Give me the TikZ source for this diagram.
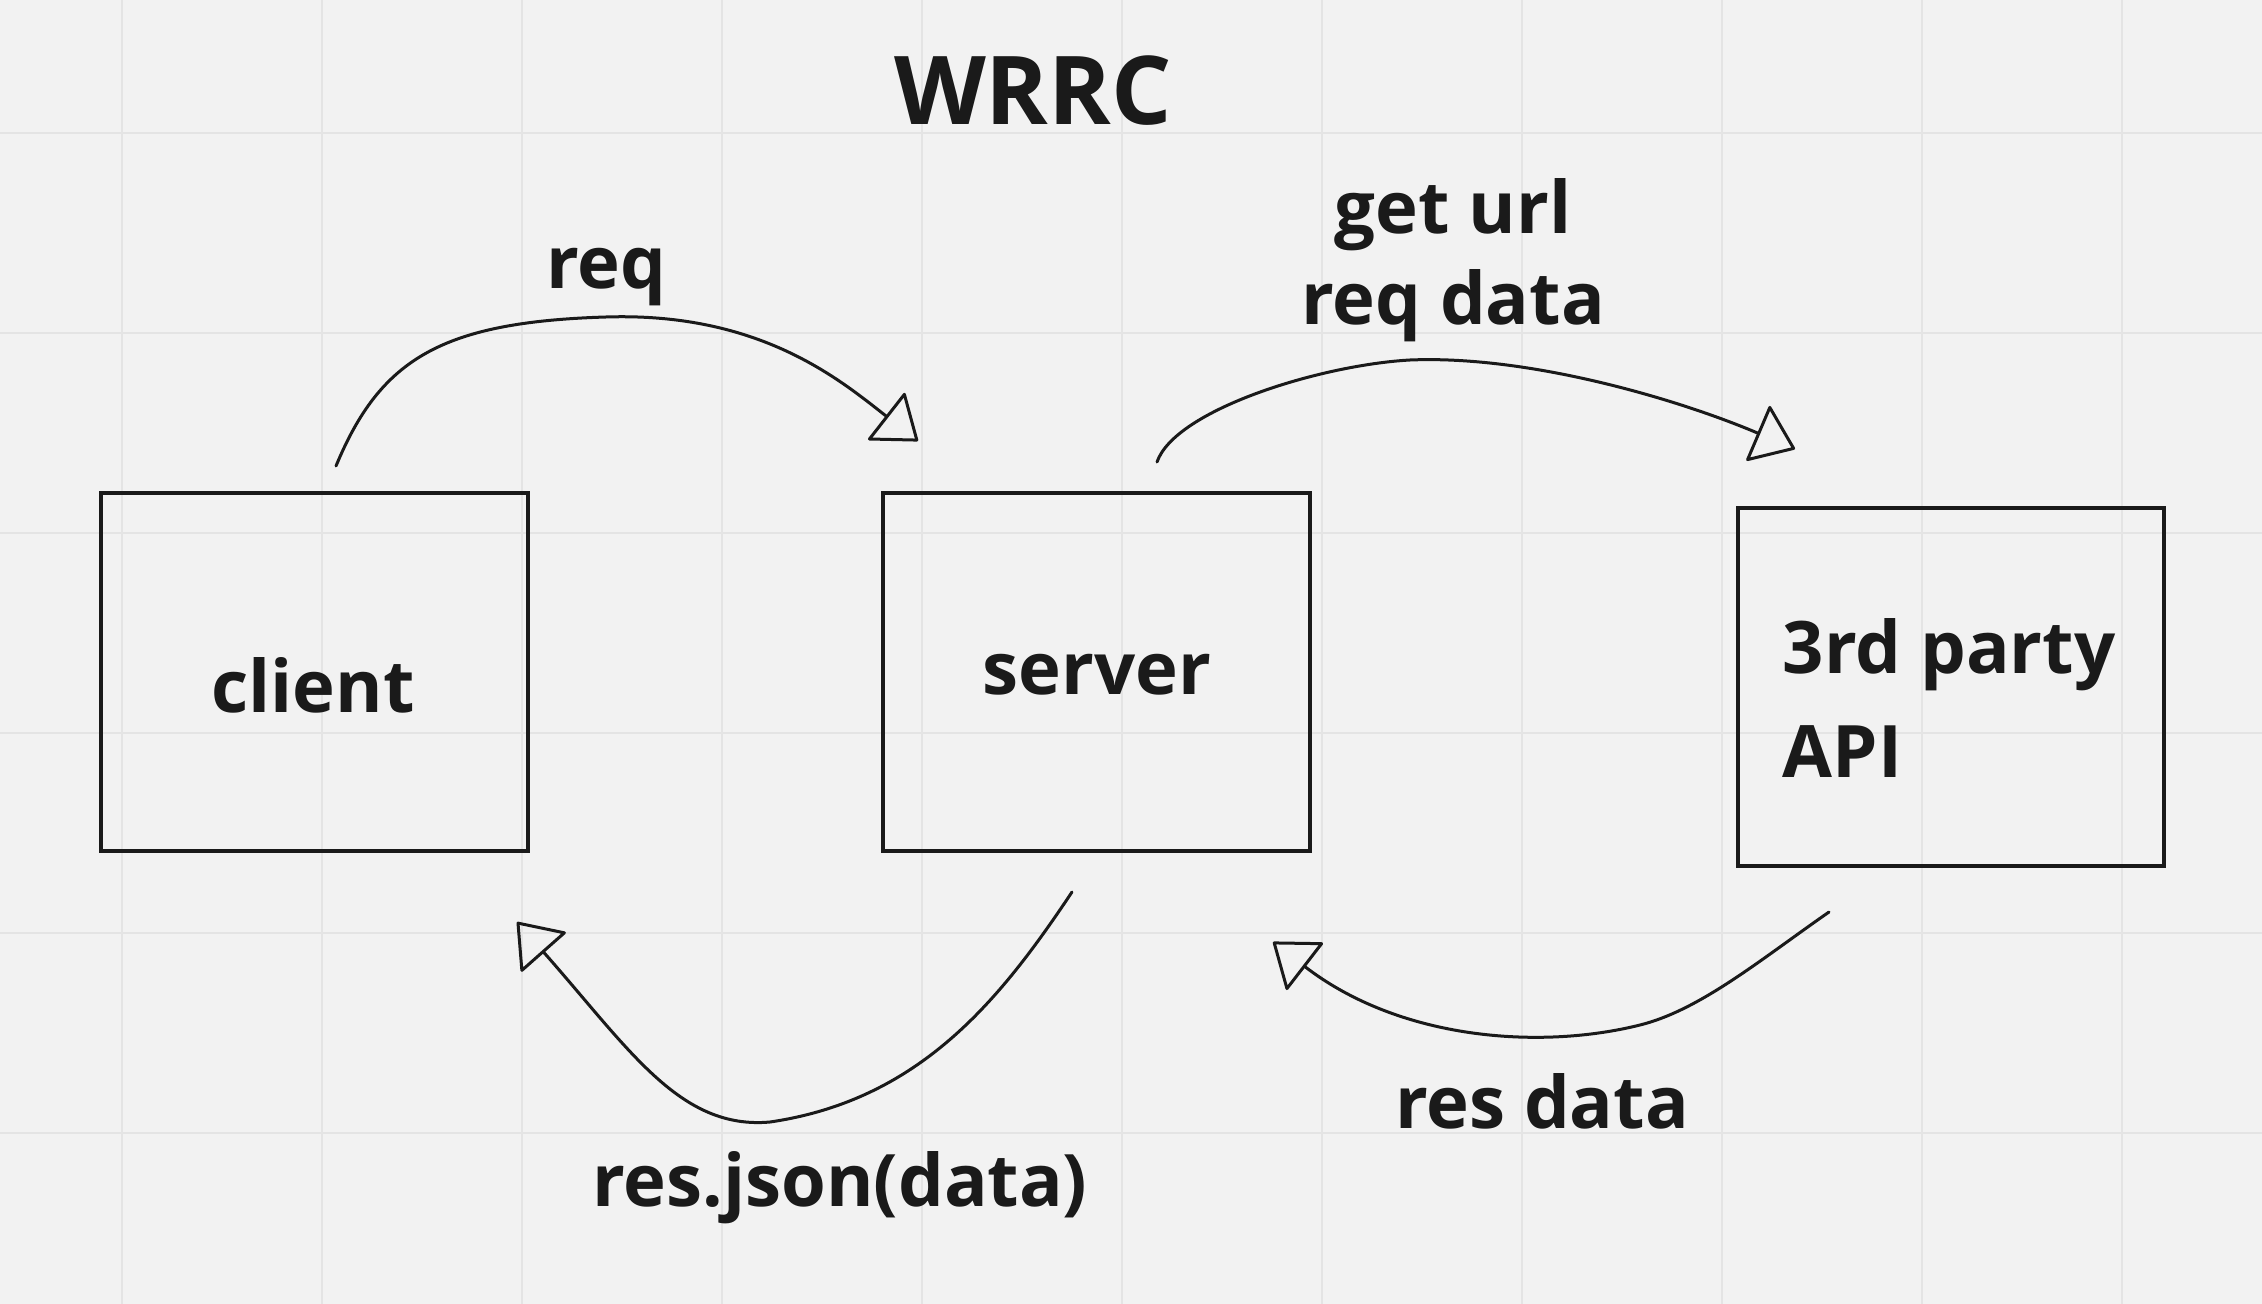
\documentclass[tikz,border=0pt]{standalone}
\usepackage{fontspec}
\setmainfont{Open Sans}
\usetikzlibrary{arrows.meta}

\definecolor{ink}{HTML}{1A1A1A}
\definecolor{paper}{HTML}{F2F2F2}
\definecolor{gridline}{HTML}{E4E4E4}

\tikzset{
  box/.style={draw=ink, line width=2pt, inner sep=0pt},
  label/.style={anchor=base, inner sep=0.75pt, text=ink, font=\fontsize{36.2}{44}\selectfont\bfseries},
  flow/.style={draw=ink, line width=1.5pt, line cap=round, line join=round,
    -{Triangle[open, length=21pt, width=31pt, line join=round]}}
}

\begin{document}
\begin{tikzpicture}[x=0.5pt,y=0.5pt,yscale=-1,xscale=1]
%Background with grid
\fill[paper] (0,0) rectangle (2262,1304);
\useasboundingbox (0,0) rectangle (2262,1304);
\foreach \gx in {122,322,...,2122} {\draw[gridline, line width=0.75pt] (\gx,0) -- (\gx,1304);}
\foreach \gy in {133,333,...,1133} {\draw[gridline, line width=0.75pt] (0,\gy) -- (2262,\gy);}

%Shape: Rectangle [client]
\node (clientbox) [box, minimum width=213.5pt, minimum height=179pt] at (314.5,672) {};
%Shape: Rectangle [server]
\node (serverbox) [box, minimum width=213.5pt, minimum height=179pt] at (1096.5,672) {};
%Shape: Rectangle [3rd party API]
\node (apibox) [box, minimum width=213pt, minimum height=179pt] at (1951,687) {};

% Text Node
\node (title) [label, font=\fontsize{47.5}{56}\selectfont\bfseries] at (1033,125) {WRRC};
% Text Node
\node (client) [label] at (313,712) {client};
% Text Node
\node (server) [label] at (1097,694) {server};
% Text Node
\node (api1) [label, anchor=base west] at (1781,673) {3rd party};
% Text Node
\node (api2) [label, anchor=base west] at (1781,777) {API};
% Text Node
\node (req) [label] at (606,289) {req};
% Text Node
\node (geturl) [label] at (1453,234) {get url};
% Text Node
\node (reqdata) [label] at (1453,325) {req data};
% Text Node
\node (resdata) [label] at (1542,1128) {res data};
% Text Node
\node (resjson) [label] at (840,1206) {res.json(data)};

%Curve ends
\coordinate (reqS) at (336,466);
\coordinate (reqM) at (606,317);
\coordinate (reqE) at (918,441);
\coordinate (urlS) at (1157,462);
\coordinate (urlM) at (1410,360);
\coordinate (urlE) at (1795,449);
\coordinate (resS) at (1829,912);
\coordinate (resM) at (1640,1025);
\coordinate (resE) at (1273,942);
\coordinate (jsonS) at (1072,892);
\coordinate (jsonM) at (770,1122);
\coordinate (jsonE) at (517,922);

%Curve Lines [client to server]
\draw[flow] (reqS) .. controls (380,360) and (440,322) .. (reqM) .. controls (760,312) and (840,380) .. (reqE);
%Curve Lines [server to api]
\draw[flow] (urlS) .. controls (1175,410) and (1320,365) .. (urlM) .. controls (1530,355) and (1680,400) .. (urlE);
%Curve Lines [api to server]
\draw[flow] (resS) .. controls (1760,960) and (1700,1010) .. (resM) .. controls (1540,1050) and (1400,1040) .. (resE);
%Curve Lines [server to client]
\draw[flow] (jsonS) .. controls (1000,1000) and (920,1100) .. (jsonM) .. controls (680,1130) and (630,1050) .. (jsonE);

\end{tikzpicture}
\end{document}
